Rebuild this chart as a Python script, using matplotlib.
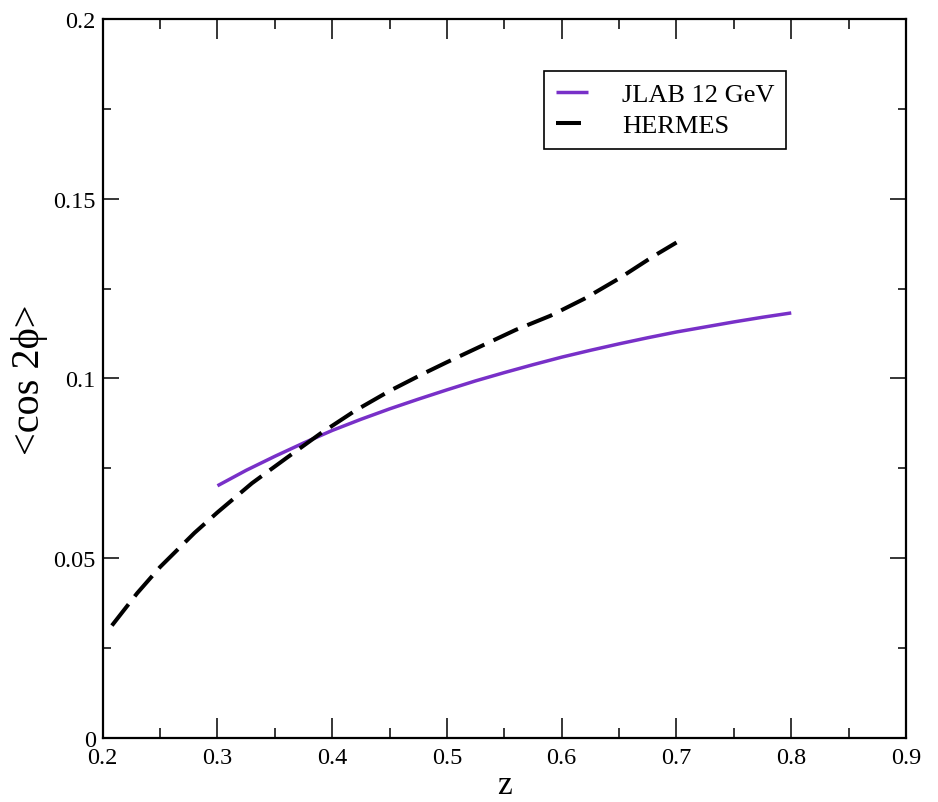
import matplotlib
matplotlib.use("Agg")
import matplotlib.pyplot as plt
from matplotlib.lines import Line2D
from matplotlib.ticker import MultipleLocator

# <cos 2phi> versus z for the two kinematic settings
z_jlab = [0.300, 0.325, 0.350, 0.375, 0.400, 0.425, 0.450, 0.475, 0.500,
          0.525, 0.550, 0.575, 0.600, 0.625, 0.650, 0.675, 0.700, 0.725,
          0.750, 0.775, 0.800]
cos2phi_jlab = [0.0701, 0.0744, 0.0783, 0.0820, 0.0855, 0.0886, 0.0915,
                0.0942, 0.0968, 0.0993, 0.1016, 0.1038, 0.1059, 0.1078,
                0.1096, 0.1113, 0.1129, 0.1143, 0.1157, 0.1170, 0.1182]

z_hermes = [0.208, 0.23, 0.25, 0.28, 0.30, 0.33, 0.36, 0.39, 0.42, 0.45,
            0.48, 0.50, 0.53, 0.56, 0.59, 0.62, 0.65, 0.68, 0.70]
cos2phi_hermes = [0.0312, 0.0402, 0.0475, 0.0570, 0.0627, 0.0708, 0.0778,
                  0.0847, 0.0910, 0.0965, 0.1014, 0.1045, 0.1090, 0.1135,
                  0.1174, 0.1222, 0.1278, 0.1340, 0.1378]

labels = ["JLAB 12 GeV", "HERMES"]

plt.rcParams["font.family"] = ["Liberation Serif", "DejaVu Serif"]

fig = plt.figure(figsize=(9.38, 8.03), dpi=100)
ax = fig.add_axes([0.1095, 0.0801, 0.8564, 0.8950])

jlab_line, = ax.plot(z_jlab, cos2phi_jlab, color="#7830c8", lw=2.5,
                     solid_capstyle="butt", solid_joinstyle="round")
ax.plot(z_hermes, cos2phi_hermes, color="black", lw=2.9,
        dashes=(6.7, 2.5), dash_capstyle="butt")

ax.set_xlim(0.2, 0.9)
ax.set_ylim(0.0, 0.2)
ax.xaxis.set_minor_locator(MultipleLocator(0.05))
ax.yaxis.set_minor_locator(MultipleLocator(0.025))
ax.set_xticks([0.2, 0.3, 0.4, 0.5, 0.6, 0.7, 0.8, 0.9])
ax.set_xticklabels(["0.2", "0.3", "0.4", "0.5", "0.6", "0.7", "0.8", "0.9"])
ax.set_yticks([0, 0.05, 0.1, 0.15, 0.2])
ax.set_yticklabels(["0", "0.05", "0.1", "0.15", "0.2"])

ax.tick_params(axis="both", which="both", direction="in",
               top=True, right=True, width=1.1, labelsize=17.5)
ax.tick_params(axis="x", which="major", length=14.4, pad=7)
ax.tick_params(axis="x", which="minor", length=7.2)
ax.tick_params(axis="y", which="major", length=11.2, pad=5)
ax.tick_params(axis="y", which="minor", length=5.8)
for sp in ax.spines.values():
    sp.set_linewidth(1.6)

ax.set_xlabel("z", fontsize=24, labelpad=1)
ax.set_ylabel("<cos 2\u03d5>", fontsize=29, labelpad=4)

# legend key for HERMES: one dash, slightly shorter than the JLAB key
hermes_key = Line2D([], [], color="black", lw=2.9, dashes=(6.2, 6.0),
                    dash_capstyle="butt")
leg = ax.legend([jlab_line, hermes_key], labels, loc="upper left",
                bbox_to_anchor=(544 / 938, 1 - 71.7 / 803),
                bbox_transform=fig.transFigure, borderaxespad=0,
                fontsize=19, handlelength=1.2, handletextpad=1.3,
                borderpad=0.45, labelspacing=0.3, fancybox=False,
                framealpha=1, edgecolor="black")
leg.get_frame().set_linewidth(1.2)

fig.savefig("out.png", dpi=100)
